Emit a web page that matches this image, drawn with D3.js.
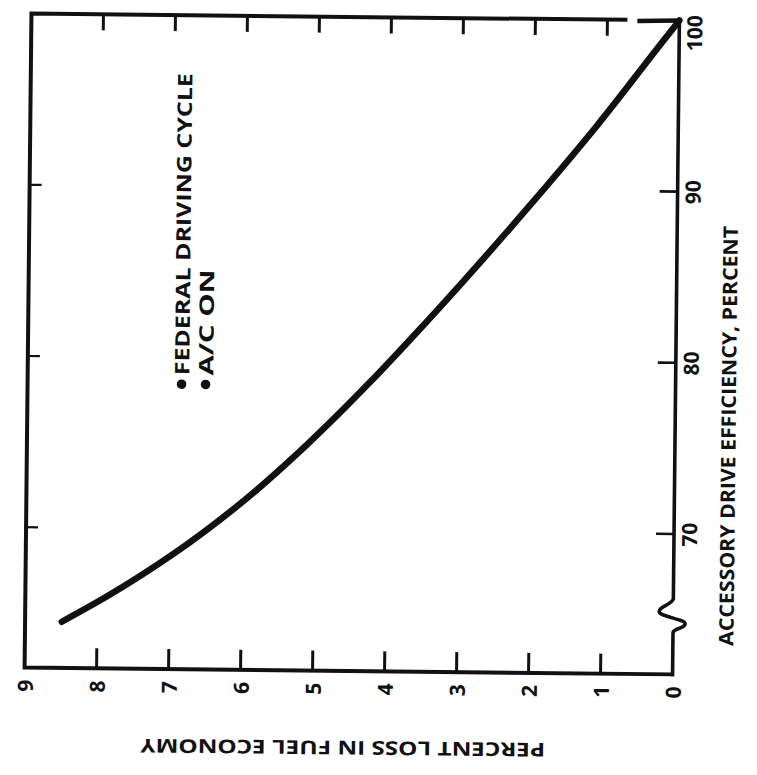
<!DOCTYPE html>
<html>
<head>
<meta charset="utf-8">
<script src="https://cdn.jsdelivr.net/npm/d3@7"></script>
<style>
  html, body { margin: 0; padding: 0; background: #fff; }
  svg { display: block; }
  text { font-family: "Open Sans", "DejaVu Sans", sans-serif; font-weight: 700; fill: #111; }
</style>
</head>
<body>
<svg id="chart" width="757" height="775"></svg>
<script>
// Accessory drive efficiency (percent) vs. percent loss in fuel economy
const efficiency = [64.5, 66.0, 68.5, 71.5, 75.0, 78.7, 81.3, 84.6, 89.1, 93.8, 98.8, 100];
const fuelLoss   = [8.49, 7.87, 6.96, 6.03, 5.11, 4.24, 3.67, 2.97, 2.05, 1.13, 0.22, 0];

const lossTicks = [0, 1, 2, 3, 4, 5, 6, 7, 8, 9];
const effTicks = [70, 80, 90, 100];
const legendLines = ["FEDERAL DRIVING CYCLE", "A/C ON"];
const lossTitle = "PERCENT LOSS IN FUEL ECONOMY";
const effTitle = "ACCESSORY DRIVE EFFICIENCY,  PERCENT";

const ink = "#111";
const frameL = 28, frameR = 676, frameT = 17, frameB = 671;

const svg = d3.select("#chart");
svg.append("rect").attr("width", 757).attr("height", 775).attr("fill", "#fff");

// the whole figure sits slightly askew on the page
const g = svg.append("g").attr("transform", "rotate(0.6, 352, 344)");

// loss runs horizontally (0 at the right), efficiency vertically (100 at the top)
const x = d3.scaleLinear().domain([0, 9]).range([frameR, frameL]);
const y = d3.scaleLinear().domain([61.8, 100]).range([frameB, frameT]);

// inner tick marks on all four edges, built as one path per edge
const innerLoss = lossTicks.filter(d => d > 0 && d < 9);
const innerEff = effTicks.filter(d => d < 100);

const bottomTicks = d3.path();
innerLoss.forEach(d => { bottomTicks.moveTo(x(d), frameB); bottomTicks.lineTo(x(d), frameB - 20); });
g.append("path").attr("d", bottomTicks.toString())
  .attr("fill", "none").attr("stroke", ink).attr("stroke-width", 3);

const topTicks = d3.path();
innerLoss.forEach(d => { topTicks.moveTo(x(d), frameT); topTicks.lineTo(x(d), frameT + 16); });
g.append("path").attr("d", topTicks.toString())
  .attr("fill", "none").attr("stroke", ink).attr("stroke-width", 3);

const rightTicks = d3.path();
innerEff.forEach(d => { rightTicks.moveTo(frameR, y(d)); rightTicks.lineTo(frameR - 18, y(d)); });
g.append("path").attr("d", rightTicks.toString())
  .attr("fill", "none").attr("stroke", ink).attr("stroke-width", 2.6);

const leftTicks = d3.path();
innerEff.forEach(d => { leftTicks.moveTo(frameL, y(d)); leftTicks.lineTo(frameL + 12, y(d)); });
g.append("path").attr("d", leftTicks.toString())
  .attr("fill", "none").attr("stroke", ink).attr("stroke-width", 2.2);

// frame: left, bottom, top, and the right axis with its break mark
const framePath = d3.path();
framePath.moveTo(frameR, frameB);
framePath.lineTo(frameL, frameB);
framePath.lineTo(frameL, frameT);
framePath.lineTo(624, frameT);
g.append("path").attr("d", framePath.toString())
  .attr("fill", "none").attr("stroke", ink).attr("stroke-width", 4)
  .attr("stroke-linejoin", "miter");

g.append("path").attr("d", `M634,${frameT + 1} L${frameR},${frameT}`)
  .attr("fill", "none").attr("stroke", ink).attr("stroke-width", 4.5);

const yBreak = y(65.5);
g.append("path")
  .attr("d", `M${frameR},${frameT - 2} V${yBreak - 12} C${frameR - 2},${yBreak - 6} ${frameR - 15},${yBreak - 4} ${frameR - 14},${yBreak + 1}` +
             ` C${frameR - 13},${yBreak + 6} ${frameR + 13},${yBreak + 8} ${frameR + 12},${yBreak + 13}` +
             ` C${frameR + 11},${yBreak + 18} ${frameR},${yBreak + 17} ${frameR},${yBreak + 22} V${frameB + 2}`)
  .attr("fill", "none").attr("stroke", ink).attr("stroke-width", 3.6)
  .attr("stroke-linejoin", "round");

// bottom axis labels (turned on their side)
const bottomAxis = d3.axisBottom(x).tickValues(lossTicks).tickSize(0).tickPadding(0)
  .tickFormat(d3.format("d"));
const gb = g.append("g").attr("transform", `translate(0,${frameB})`).call(bottomAxis);
gb.select(".domain").remove();
gb.selectAll(".tick line").remove();
gb.selectAll(".tick text")
  .attr("y", null).attr("dy", null)
  .attr("transform", "translate(0,18) rotate(-90)")
  .attr("text-anchor", "middle").attr("dominant-baseline", "central")
  .attr("fill", ink)
  .style("font-size", "21px");

// right axis labels (turned on their side)
const rightAxis = d3.axisRight(y).tickValues(effTicks).tickSize(0).tickPadding(0)
  .tickFormat(d3.format("d"));
const gr = g.append("g").attr("transform", `translate(${frameR},0)`).call(rightAxis);
gr.select(".domain").remove();
gr.selectAll(".tick line").remove();
gr.selectAll(".tick text")
  .attr("x", null).attr("dy", null)
  .attr("transform", d => d === 100 ? "translate(15,12) rotate(-90)" : "translate(15,0) rotate(-90)")
  .attr("text-anchor", "middle").attr("dominant-baseline", "central")
  .attr("fill", ink)
  .style("font-size", "21px");

// axis titles
g.append("text")
  .attr("transform", `translate(729,432) rotate(-90)`)
  .attr("text-anchor", "middle").attr("dominant-baseline", "central")
  .attr("textLength", 420).attr("lengthAdjust", "spacingAndGlyphs")
  .style("font-size", "20px")
  .text(effTitle);

g.append("text")
  .attr("transform", `translate(347,748) rotate(180)`)
  .attr("text-anchor", "middle").attr("dominant-baseline", "central")
  .attr("textLength", 405).attr("lengthAdjust", "spacingAndGlyphs")
  .style("font-size", "19px")
  .text(lossTitle);

// legend notes with bullets
const legendX = [182, 206];
const legendLen = [302, 106];
legendLines.forEach((t, i) => {
  g.append("circle").attr("cx", legendX[i]).attr("cy", 386).attr("r", 4.8).attr("fill", ink);
  g.append("text")
    .attr("transform", `translate(${legendX[i]},377) rotate(-90)`)
    .attr("text-anchor", "start").attr("dominant-baseline", "central")
    .attr("textLength", legendLen[i]).attr("lengthAdjust", "spacingAndGlyphs")
    .style("font-size", "20px")
    .text(t);
});

// the curve
const pts = efficiency.map((e, i) => ({ eff: e, loss: fuelLoss[i] }));
const line = d3.line().x(d => x(d.loss)).y(d => y(d.eff)).curve(d3.curveMonotoneY);
g.append("path").datum(pts).attr("d", line)
  .attr("fill", "none").attr("stroke", ink).attr("stroke-width", 6.5)
  .attr("stroke-linecap", "round").attr("stroke-linejoin", "round");
</script>
</body>
</html>
